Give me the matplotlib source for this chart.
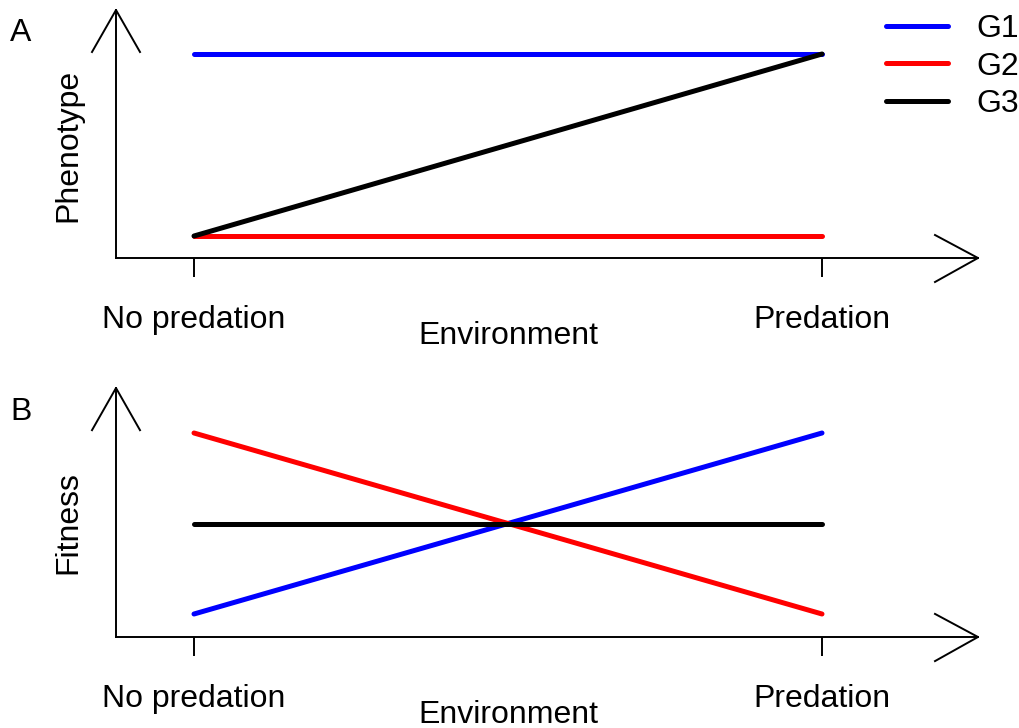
import matplotlib
matplotlib.use("Agg")
import matplotlib.pyplot as plt
from matplotlib.lines import Line2D

plt.rcParams['font.family'] = ['Liberation Sans', 'DejaVu Sans']

environment = ["No predation", "Predation"]
env_x = [1, 2]
groups = ["G1", "G2", "G3"]
colors = ["#0000FF", "#FF0000", "#000000"]
phenotype = {"G1": [2, 2], "G2": [1, 1], "G3": [1, 2]}
fitness = {"G1": [1, 2], "G2": [2, 1], "G3": [1.5, 1.5]}

W, H = 1020, 728
fig = plt.figure(figsize=(W / 100, H / 100), dpi=100)
FS = 23
LW = 3.6
ALW = 1.4


def px_axes(left, right, top, bottom):
    return fig.add_axes([left / W, 1 - bottom / H, (right - left) / W, (bottom - top) / H])


def draw_panel(ax, data, xlim, ylim, ylabel, letter, yl_center):
    for g, c in zip(groups, colors):
        ax.plot(env_x, data[g], color=c, lw=LW, solid_capstyle='round', clip_on=False)
    ax.set_xlim(*xlim)
    ax.set_ylim(*ylim)
    for s in ax.spines.values():
        s.set_visible(False)
    ax.set_yticks([])
    ax.set_xticks(env_x)
    ax.set_xticklabels(environment, fontsize=FS)
    ax.tick_params(axis='x', length=13.5, width=ALW, direction='out', pad=20, color='black')
    # axes with arrows
    aw, ah = 862, 248
    t = ax.transAxes
    kw = dict(transform=t, color='black', lw=ALW, clip_on=False)
    ax.plot([0, 0], [0, 1], **kw)
    ax.plot([0, 1], [0, 0], **kw)
    ax.plot([-24 / aw, 0, 24 / aw], [1 - 42 / ah, 1, 1 - 42 / ah], **kw)
    ax.plot([1 - 43 / aw, 1, 1 - 43 / aw], [23 / ah, 0, -24 / ah], **kw)
    ax.text((508 - 116) / aw, -78 / ah, "Environment", transform=t, fontsize=FS,
            ha='center', va='center')
    ax.text((68 - 116) / aw, yl_center, ylabel, transform=t, fontsize=FS,
            ha='center', va='center', rotation=90)
    ax.text((21 - 116) / aw, letter[1], letter[0], transform=t, fontsize=FS,
            ha='center', va='center')


# Panel A
axA = px_axes(116, 978, 10, 258)
draw_panel(axA, phenotype, (1 - 78 / 628, 2 + 156 / 628), (1 - 22 / 182, 2 + 44 / 182),
           "Phenotype", ("A", (258 - 33) / 248), (258 - 145) / 248)

# Panel B
axB = px_axes(116, 978, 388, 637)
draw_panel(axB, fitness, (1 - 78 / 628, 2 + 156 / 628), (1 - 23 / 181, 2 + 45 / 181),
           "Fitness", ("B", (637 - 412) / 249), (637 - 523) / 249)

handles = [Line2D([], [], color=c, lw=LW, solid_capstyle='round') for c in colors]
fig.legend(handles, groups, loc='upper left', bbox_to_anchor=(886 / W, 1 - 14 / H),
           frameon=False, fontsize=FS, handlelength=1.94, handletextpad=0.9,
           labelspacing=0.24, borderpad=0, borderaxespad=0)

fig.savefig("out.png", dpi=100)
